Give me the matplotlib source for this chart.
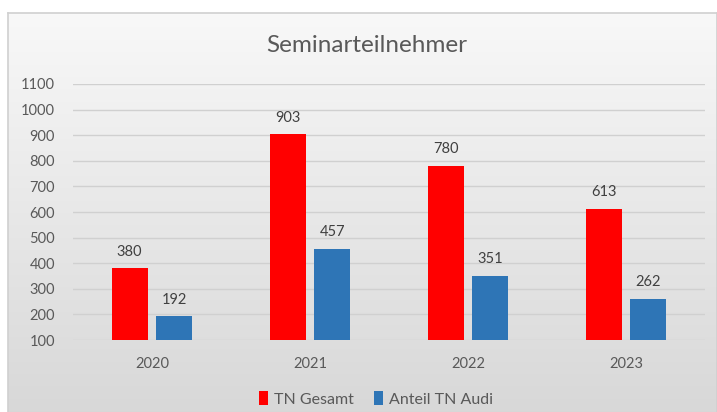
import matplotlib
matplotlib.use("Agg")
import matplotlib.pyplot as plt
import numpy as np

plt.rcParams['font.family'] = ['Lato', 'DejaVu Sans']

years = ["2020", "2021", "2022", "2023"]
tn_gesamt = [380, 903, 780, 613]
anteil_audi = [192, 457, 351, 262]
series_names = ["TN Gesamt", "Anteil TN Audi"]
colors = ["#FF0000", "#2E75B6"]
yticks = [100, 200, 300, 400, 500, 600, 700, 800, 900, 1000, 1100]

W, H = 717, 412
fig = plt.figure(figsize=(W/100, H/100), dpi=100)
fig.patch.set_facecolor("white")

# gradient background frame
bg = fig.add_axes([8/W, 0, 1 - 8/W, 1 - 13/H], zorder=0)
grad = np.linspace(0, 1, 256).reshape(-1, 1)
top = np.array([0.973, 0.973, 0.973])
bot = np.array([0.847, 0.847, 0.847])
img = top + (bot - top) * grad[..., None]
bg.imshow(img, aspect="auto", extent=[0, 1, 0, 1], origin="upper")
bg.set_xlim(0, 1); bg.set_ylim(0, 1)
bg.set_xticks([]); bg.set_yticks([])
for s in bg.spines.values():
    s.set_color("#D0D0D0")
    s.set_linewidth(1.2)
bg.spines['bottom'].set_visible(False)

ax = fig.add_axes([73/W, 1 - 340/H, (705 - 73)/W, (340 - 84)/H], zorder=1)
ax.set_facecolor("none")
x = np.arange(len(years))
w = 0.228
off = 0.142
b1 = ax.bar(x - off, [v - 100 for v in tn_gesamt], w, bottom=100, color=colors[0], label=series_names[0], zorder=3)
b2 = ax.bar(x + off, [v - 100 for v in anteil_audi], w, bottom=100, color=colors[1], label=series_names[1], zorder=3)
for xs, vals in ((x - off, tn_gesamt), (x + off, anteil_audi)):
    for xi, v in zip(xs, vals):
        ax.annotate(str(v), (xi, v), xytext=(0, 7), textcoords="offset points",
                    ha="center", va="bottom", fontsize=10.5, color="#404040")

ax.set_ylim(100, 1100)
ax.set_xlim(-0.5, 3.5)
ax.set_yticks(yticks)
ax.set_xticks(x)
ax.set_xticklabels(years)
ax.yaxis.grid(True, color="#D0D0D0", linewidth=1, zorder=0)
ax.set_axisbelow(True)
for s in ax.spines.values():
    s.set_visible(False)
ax.tick_params(axis="both", length=0, labelsize=10.5, colors="#595959")
ax.tick_params(axis="y", pad=13)
ax.tick_params(axis="x", pad=12)

fig.text(367/W, 1 - 45/H, "Seminarteilnehmer", ha="center", va="center", fontsize=17.5, color="#595959")

leg = fig.legend(handles=[b1, b2], loc="center", bbox_to_anchor=(376/W, 1 - 399/H), ncol=2,
                 frameon=False, fontsize=11.5, handlelength=0.6, handleheight=1.0,
                 handletextpad=0.4, columnspacing=1.2)
for t in leg.get_texts():
    t.set_color("#595959")

fig.savefig("out.png", dpi=100)
